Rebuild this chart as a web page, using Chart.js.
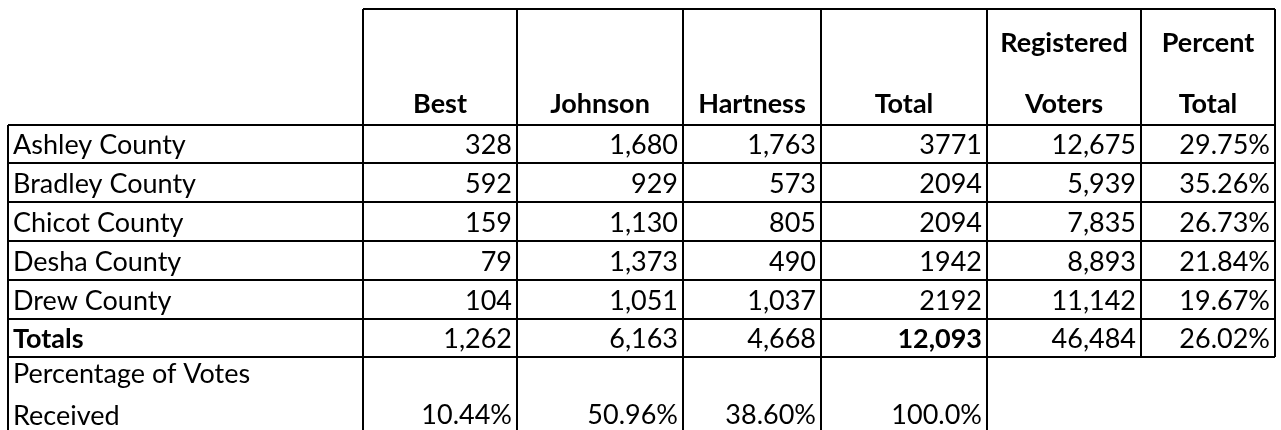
<!DOCTYPE html>
<html>
<head>
<meta charset="utf-8">
<script src="https://cdn.jsdelivr.net/npm/chart.js@4"></script>
<style>
  body { margin: 0; background: #fff; }
  canvas { display: block; }
</style>
</head>
<body>
<canvas id="table" width="1281" height="430"></canvas>
<script>
// table data
const headers = [["Best"], ["Johnson"], ["Hartness"], ["Total"], ["Registered", "Voters"], ["Percent", "Total"]];
const counties = ["Ashley County", "Bradley County", "Chicot County", "Desha County", "Drew County"];
const best = [328, 592, 159, 79, 104];
const johnson = [1680, 929, 1130, 1373, 1051];
const hartness = [1763, 573, 805, 490, 1037];
const total = [3771, 2094, 2094, 1942, 2192];
const registered = [12675, 5939, 7835, 8893, 11142];
const percentTotal = [29.75, 35.26, 26.73, 21.84, 19.67];
const totalsRow = [1262, 6163, 4668, 12093, 46484];
const totalsPercent = 26.02;
const voteShare = ["10.44%", "50.96%", "38.60%", "100.0%"];

// layout in scale units
const colWidths = [355, 154, 166, 138, 166, 154, 134];
const rowHeights = [116, 38, 39, 39, 39, 39, 38, 80];
const colEdges = colWidths.reduce((a, w) => a.concat(a[a.length - 1] + w), [0]);
const rowEdges = rowHeights.reduce((a, h) => a.concat(a[a.length - 1] + h), [0]);

const FONT = "Lato, 'Open Sans', sans-serif";
const SIZE = 27;

const fmt = (n) => n.toLocaleString("en-US");

function bodyRows() {
  const rows = counties.map((name, i) => ({
    label: name,
    cells: [fmt(best[i]), fmt(johnson[i]), fmt(hartness[i]), String(total[i]), fmt(registered[i]), percentTotal[i].toFixed(2) + "%"],
  }));
  rows.push({
    label: "Totals",
    bold: true,
    cells: totalsRow.map(fmt).concat(totalsPercent.toFixed(2) + "%"),
    boldCol: 3,
  });
  return rows;
}

const tablePlugin = {
  id: "tablePlugin",
  afterDraw(chart) {
    const { ctx } = chart;
    const xs = chart.scales.x;
    const ys = chart.scales.y;
    const px = (v) => xs.getPixelForValue(v);
    const py = (v) => ys.getPixelForValue(v);
    const yEnd = ys.max;
    const nc = colEdges.length - 1;
    const totalsBottom = rowEdges[7];

    ctx.save();
    ctx.strokeStyle = "#000";
    ctx.lineWidth = 2;
    const line = (x1, y1, x2, y2) => {
      ctx.beginPath();
      ctx.moveTo(px(x1), py(y1));
      ctx.lineTo(px(x2), py(y2));
      ctx.stroke();
    };

    // horizontal rules
    line(colEdges[1], 0, colEdges[nc], 0);
    for (let r = 1; r <= 7; r++) line(0, rowEdges[r], colEdges[nc], rowEdges[r]);
    // vertical rules
    line(0, rowEdges[1], 0, yEnd);
    for (let c = 1; c <= 5; c++) line(colEdges[c], 0, colEdges[c], yEnd);
    line(colEdges[6], 0, colEdges[6], totalsBottom);
    line(colEdges[7], 0, colEdges[7], totalsBottom);

    ctx.fillStyle = "#000";
    ctx.textBaseline = "alphabetic";

    // header
    ctx.font = `bold ${SIZE}px ${FONT}`;
    ctx.textAlign = "center";
    headers.forEach((lines, i) => {
      const cx = (colEdges[i + 1] + colEdges[i + 2]) / 2;
      lines.forEach((t, k) => {
        const base = rowEdges[1] - 12 - (lines.length - 1 - k) * 61;
        ctx.fillText(t, px(cx), py(base));
      });
    });

    // body
    bodyRows().forEach((row, r) => {
      const base = rowEdges[r + 2] - 9;
      ctx.textAlign = "left";
      ctx.font = `${row.bold ? "bold " : ""}${SIZE}px ${FONT}`;
      ctx.fillText(row.label, px(colEdges[0] + 5), py(base));
      ctx.textAlign = "right";
      row.cells.forEach((t, c) => {
        ctx.font = `${row.boldCol === c ? "bold " : ""}${SIZE}px ${FONT}`;
        ctx.fillText(t, px(colEdges[c + 2] - 5), py(base));
      });
    });

    // vote share row
    const top = rowEdges[7];
    ctx.font = `${SIZE}px ${FONT}`;
    ctx.textAlign = "left";
    ctx.fillText("Percentage of Votes", px(colEdges[0] + 5), py(top + 26));
    ctx.fillText("Received", px(colEdges[0] + 5), py(top + 68));
    ctx.textAlign = "right";
    voteShare.forEach((t, c) => {
      ctx.fillText(t, px(colEdges[c + 2] - 5), py(top + 67));
    });
    ctx.restore();
  },
};

new Chart(document.getElementById("table"), {
  type: "scatter",
  data: { datasets: [{ data: [] }] },
  options: {
    responsive: false,
    animation: false,
    events: [],
    layout: { padding: { left: 8, right: 6, top: 9, bottom: 0 } },
    plugins: { legend: { display: false }, tooltip: { enabled: false } },
    scales: {
      x: { type: "linear", display: false, min: 0, max: colEdges[colEdges.length - 1] },
      y: { type: "linear", display: false, reverse: true, min: 0, max: 421 },
    },
  },
  plugins: [tablePlugin],
});
</script>
</body>
</html>
